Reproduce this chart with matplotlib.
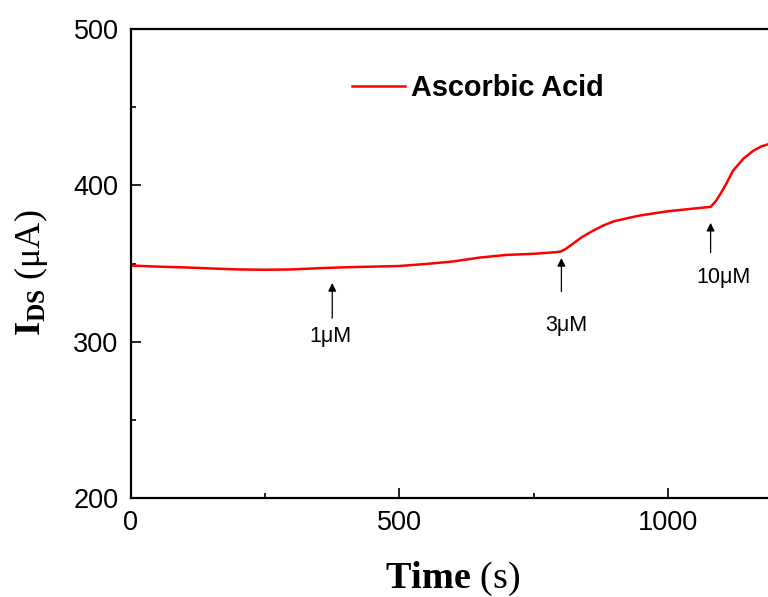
import matplotlib
matplotlib.use('Agg')
import matplotlib.pyplot as plt
from matplotlib.ticker import MultipleLocator

# current response to ascorbic acid additions
time_s = [0, 50, 100, 150, 200, 250, 300, 350, 400, 450, 500, 550, 600, 650,
          700, 750, 790, 800, 810, 820, 840, 860, 880, 900, 925, 950, 1000,
          1050, 1080, 1090, 1100, 1110, 1122, 1141, 1159, 1175, 1190]
ids_uA = [348.7, 348.0, 347.5, 346.8, 346.2, 346.0, 346.2, 347.0, 347.6, 348.0,
          348.4, 349.7, 351.3, 353.8, 355.5, 356.2, 357.2, 357.6, 359.3, 361.8,
          366.8, 370.8, 374.3, 377.0, 379.0, 380.8, 383.4, 385.2, 386.2, 390.0,
          395.5, 401.5, 409.5, 417.0, 422.0, 425.0, 426.5]

# injection markers: label, time, arrow tip, arrow tail, label y, label x
inj_labels = ['1\u03bcM', '3\u03bcM', '10\u03bcM']
inj_time = [375, 802, 1080]
inj_tip = [337.5, 353.5, 376.0]
inj_tail = [315.0, 332.0, 357.0]
inj_text_y = [303.0, 310.5, 341.0]
inj_text_x = [372, 811, 1104]

plt.rcParams['mathtext.fontset'] = 'custom'
plt.rcParams['mathtext.rm'] = 'Liberation Serif'
plt.rcParams['mathtext.bf'] = 'Liberation Serif:bold'
plt.rcParams['font.family'] = 'Liberation Sans'

fig = plt.figure(figsize=(7.68, 5.97), dpi=100)
# axes run just past the right edge, as in the cropped original
ax = fig.add_axes([131 / 768, 99 / 597, 644 / 768, 469 / 597])

ax.plot(time_s, ids_uA, color='#ff0000', lw=1.8, label='Ascorbic Acid')

for lab, t, tip, tail, ty, tx in zip(inj_labels, inj_time, inj_tip, inj_tail,
                                     inj_text_y, inj_text_x):
    ax.annotate('', xy=(t, tip), xytext=(t, tail),
                arrowprops=dict(arrowstyle='-|>', color='black', lw=0.9,
                                mutation_scale=12, shrinkA=0, shrinkB=0))
    ax.text(tx, ty, lab, ha='center', va='center', fontsize=15.5)

ax.set_xlim(0, 1200)
ax.set_ylim(200, 500)
ax.xaxis.set_major_locator(MultipleLocator(500))
ax.xaxis.set_minor_locator(MultipleLocator(250))
ax.yaxis.set_major_locator(MultipleLocator(100))
ax.yaxis.set_minor_locator(MultipleLocator(50))
ax.tick_params(which='both', direction='in', labelsize=19.5, pad=9)
ax.tick_params(which='major', length=7, width=1.2)
ax.tick_params(which='minor', length=3.5, width=1.2)
for sp in ax.spines.values():
    sp.set_linewidth(1.6)

ax.set_xlabel(r'$\mathbf{Time}$ (s)', fontsize=27.5, family='Liberation Serif',
              labelpad=17)
ax.set_ylabel('$\\mathbf{I_{DS}}$ (\u03bcA)', fontsize=26,
              family='Liberation Serif')
ax.yaxis.set_label_coords(-0.125, 0.48)

leg = fig.legend(loc='center left', bbox_to_anchor=(352 / 768, 1 - 88 / 597),
                 frameon=False, borderpad=0, borderaxespad=0,
                 handlelength=1.85, handletextpad=0.2,
                 prop={'family': 'Liberation Sans', 'weight': 'bold', 'size': 20.8})

fig.savefig('out.png', dpi=100)
